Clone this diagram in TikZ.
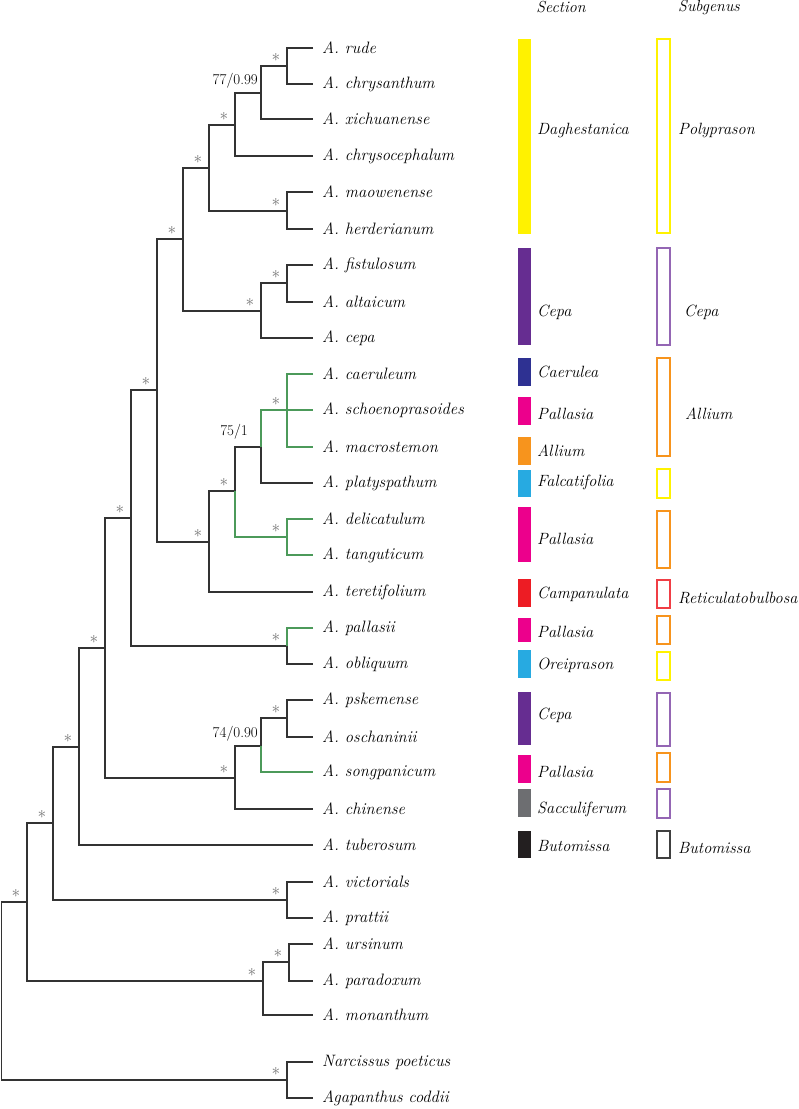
\documentclass[tikz,border=0pt]{standalone}
\usepackage{tikz}
\definecolor{figgreen}{HTML}{4C9A5A}
\definecolor{secyellow}{HTML}{FFF200}
\definecolor{secpurple}{HTML}{662D91}
\definecolor{subpurple}{HTML}{9466B4}
\definecolor{secnavy}{HTML}{2E3192}
\definecolor{secmagenta}{HTML}{EC008C}
\definecolor{secorange}{HTML}{F7941D}
\definecolor{seccyan}{HTML}{27AAE1}
\definecolor{secred}{HTML}{ED1C24}
\definecolor{secgray}{HTML}{6D6E71}
\definecolor{secblack}{HTML}{231F20}
\tikzset{
  branch/.style={line width=1.1pt, draw=black!80},
  greenbranch/.style={branch, draw=figgreen},
  tipname/.style={anchor=west, inner xsep=9pt, inner ysep=0pt,
    font=\fontsize{16.5}{18}\selectfont\itshape},
  boot/.style={text=black!55, inner sep=0pt, font=\fontsize{17}{17}\selectfont},
  support/.style={anchor=south east, inner sep=0pt, font=\fontsize{15}{17}\selectfont},
  seclabel/.style={anchor=west, inner sep=0pt, font=\fontsize{16.3}{18}\selectfont\itshape},
  headlabel/.style={inner sep=0pt, font=\fontsize{16}{17}\selectfont\itshape},
  subbox/.style={line width=1.2pt},
}

\begin{document}
\begin{tikzpicture}[x=1pt, y=-1pt]
  \useasboundingbox (0,0) rectangle (799,1109);
  % Taxa
  \foreach \n/\y/\t in {1/48/A. rude, 2/84/A. chrysanthum, 3/119/A. xichuanense,
      4/156/A. chrysocephalum, 5/192/A. maowenense, 6/229/A. herderianum,
      7/265/A. fistulosum, 8/302/A. altaicum, 9/338/A. cepa, 10/374/A. caeruleum,
      11/410/A. schoenoprasoides, 12/447/A. macrostemon, 13/483/A. platyspathum,
      14/519/A. delicatulum, 15/555/A. tanguticum, 16/592/A. teretifolium,
      17/628/A. pallasii, 18/664/A. obliquum, 19/700/A. pskemense,
      20/737/A. oschaninii, 21/772/A. songpanicum, 22/809/A. chinense,
      23/845/A. tuberosum, 24/882/A. victorials, 25/918/A. prattii,
      26/944/A. ursinum, 27/981/A. paradoxum, 28/1015/A. monanthum,
      29/1062/Narcissus poeticus, 30/1098/Agapanthus coddii}{
    \node[tipname] (t\n) at (313,\y) {\t};
  }
  % innere Knoten
  \foreach \n/\x/\y in {rc/287/66, rcx/261/93, dagA/235/125, mh/287/211, dag/209/168,
      fa/287/283, cep/261/311, poly/183/239, cmp/287/410, cmpP/261/447, dt/287/537,
      cdA/235/491, cdB/209/542, core/157/390, po/287/646, core2/131/518, pso/287/718,
      psoS/261/746, psc/235/778, core3/105/648, core4/79/747, vp/287/900, core5/53/823,
      up/289/962, upm/263/981, allium/27/902, na/287/1080, root/1.5/990}{
    \coordinate (\n) at (\x,\y);
  }
  % Aeste
  \foreach \a/\n/\b in {t1.west/rc/t2.west, rc/rcx/t3.west, rcx/dagA/t4.west,
      t5.west/mh/t6.west, dagA/dag/mh, t7.west/fa/t8.west, fa/cep/t9.west,
      dag/poly/cep, cdA/cdB/t16.west, poly/core/cdB, core/core2/po,
      t19.west/pso/t20.west, psoS/psc/t22.west, core2/core3/psc,
      core3/core4/t23.west, t24.west/vp/t25.west, core4/core5/vp,
      t26.west/up/t27.west, up/upm/t28.west, core5/allium/upm, allium/root/na,
      t29.west/na/t30.west}{
    \draw[branch] (\a) -| (\n) |- (\b);
  }
  \draw[branch] (cmpP) |- (t13.west);
  \draw[branch] (cmpP) -| (cdA);
  \draw[branch] (po) |- (t18.west);
  \draw[branch] (pso) -| (psoS);
  % gruene Aeste
  \draw[greenbranch] (t10.west) -| (cmp) |- (t12.west);
  \draw[greenbranch] (cmp) -- (t11.west);
  \draw[greenbranch] (cmp) -| (cmpP);
  \draw[greenbranch] (t14.west) -| (dt) |- (t15.west);
  \draw[greenbranch] (cdA) |- (dt);
  \draw[greenbranch] (t17.west) -| (po);
  \draw[greenbranch] (psoS) |- (t21.west);
  % Stuetzwerte
  \foreach \n in {rc, dagA, dag, poly, mh, fa, cep, core, cmp, cdA, dt, cdB, core2,
      po, core3, pso, psc, core4, core5, vp, allium, up, upm, na}{
    \node[boot, xshift=-11pt, yshift=9pt] (s-\n) at (\n) {$\ast$};
  }
  \node[support, xshift=-3pt, yshift=5pt] (bs-rcx) at (rcx) {77/0.99};
  \node[support, xshift=-13pt, yshift=8pt] (bs-cmpP) at (cmpP) {75/1};
  \node[support, xshift=-3pt, yshift=5pt] (bs-psoS) at (psoS) {74/0.90};
  % Sektionen
  \node[headlabel] (head-sec) at (561,7) {Section};
  \foreach \a/\b/\c/\l/\m [count=\i] in {39/234/secyellow/Daghestanica/131,
      248/345/secpurple/Cepa/312, 358/386/secnavy/Caerulea/372,
      397/425/secmagenta/Pallasia/414, 437/465/secorange/Allium/451,
      470/497/seccyan/Falcatifolia/482, 507/562/secmagenta/Pallasia/539,
      579/607/secred/Campanulata/594, 618/642/secmagenta/Pallasia/632,
      650/678/seccyan/Oreiprason/665, 692/745/secpurple/Cepa/715,
      755/783/secmagenta/Pallasia/772, 789/817/secgray/Sacculiferum/809,
      831/858/secblack/Butomissa/846}{
    \fill[\c] (518,\a) rectangle (531,\b);
    \node[seclabel] (sec\i) at (537,\m) {\l};
  }
  % Untergattungen
  \node[headlabel] (head-sub) at (709,7) {Subgenus};
  \foreach \a/\b/\c in {39/233/secyellow, 248/345/subpurple, 358/456/secorange,
      469/498/secyellow, 511/568/secorange, 580/608/secred!85, 616/644/secorange,
      652/680/secyellow, 693/746/subpurple, 753/782/secorange, 789/818/subpurple,
      831/858/black!75}{
    \draw[subbox, \c] (657,\a) rectangle (670,\b);
  }
  \node[seclabel] (sub-poly) at (678,131) {Polyprason};
  \node[seclabel] (sub-cepa) at (684,312) {Cepa};
  \node[seclabel] (sub-allium) at (685,414) {Allium};
  \node[seclabel] (sub-ret) at (678,598) {Reticulatobulbosa};
  \node[seclabel] (sub-but) at (678,848) {Butomissa};
\end{tikzpicture}
\end{document}
